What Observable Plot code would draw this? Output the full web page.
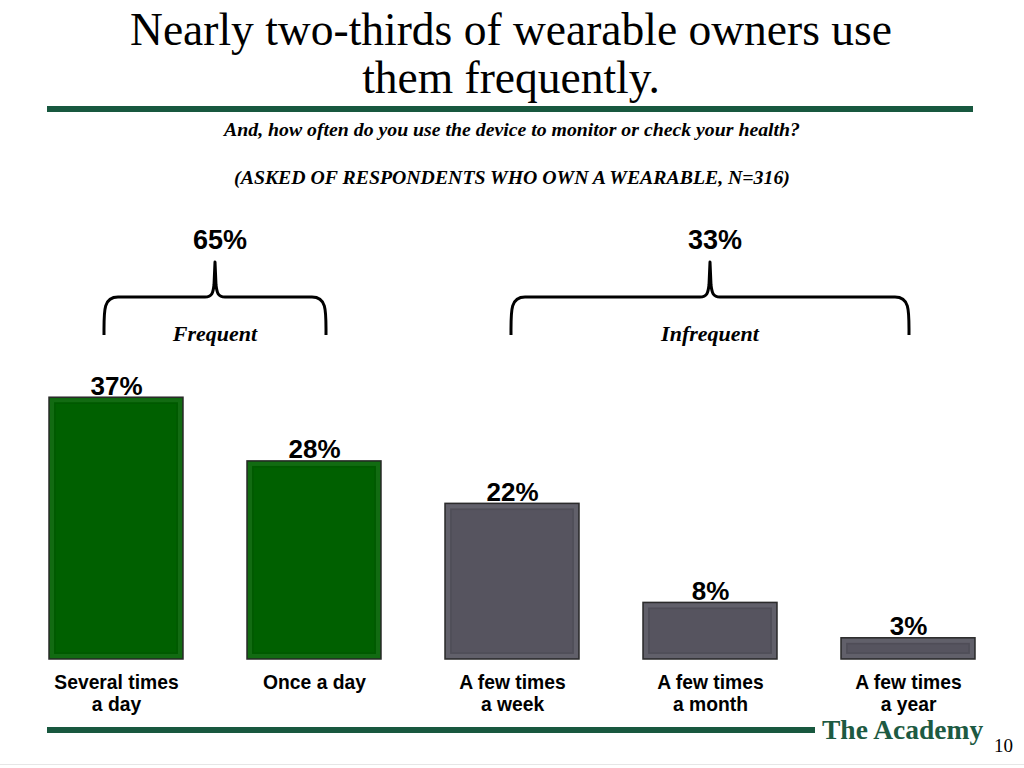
<!DOCTYPE html>
<html>
<head>
<meta charset="utf-8">
<script src="https://cdn.jsdelivr.net/npm/d3@7"></script>
<script src="https://cdn.jsdelivr.net/npm/@observablehq/plot@0.6"></script>
<style>
  html, body { margin: 0; padding: 0; background: #fff; }
  #page { position: relative; width: 1024px; height: 768px; overflow: hidden; background: #fff; }
  .abs { position: absolute; }
  #title { left: 0; top: 6px; width: 1022px; text-align: center; font-family: "Liberation Serif", "Times New Roman", serif; font-size: 45.5px; line-height: 48px; color: #000; }
  .sub { left: 0; width: 1024px; text-align: center; font-family: "Liberation Serif", "Times New Roman", serif; font-weight: bold; font-style: italic; font-size: 19.8px; color: #000; white-space: nowrap; }
  .rule { background: #18583f; }
  #academy { left: 822px; top: 715px; font-family: "Liberation Serif", "Times New Roman", serif; font-weight: bold; font-size: 27.5px; line-height: 30px; color: #1d5a42; white-space: nowrap; }
  #pagenum { left: 994px; top: 735px; font-family: "Liberation Serif", "Times New Roman", serif; font-size: 19px; color: #000; }
  #chart { left: 0; top: 200px; }
</style>
</head>
<body>
<div id="page">
  <div id="title" class="abs">Nearly two-thirds of wearable owners use<br>them frequently.</div>
  <div class="abs rule" style="left:47px; top:106px; width:926px; height:6px;"></div>
  <div class="abs sub" style="top:118px;">And, how often do you use the device to monitor or check your health?</div>
  <div class="abs sub" style="top:166px;">(ASKED OF RESPONDENTS WHO OWN A WEARABLE, N=316)</div>
  <div id="chart" class="abs"></div>
  <div class="abs rule" style="left:47px; top:727px; width:768px; height:6px;"></div>
  <div id="academy" class="abs">The Academy</div>
  <div id="pagenum" class="abs">10</div>
  <div class="abs" style="left:0; top:764px; width:1024px; height:1px; background:#e6e6e6;"></div>
</div>
<script>
const categories = ["Several times\na day", "Once a day", "A few times\na week", "A few times\na month", "A few times\na year"];
const values = [37, 28, 22, 8, 3];
const groups = ["Frequent", "Frequent", "Infrequent", "Infrequent", "Infrequent"];
const groupNames = ["Frequent", "Infrequent"];
const groupTotals = [65, 33];
const groupColors = {Frequent: "#006000", Infrequent: "#56545f"};

const data = categories.map((c, i) => ({cat: c, value: values[i], group: groups[i]}));

const W = 1024, H = 520;
const plot = Plot.plot({
  width: W,
  height: H,
  marginLeft: 0,
  marginRight: 0,
  marginTop: 176,
  marginBottom: 61,
  style: {background: "transparent", overflow: "visible"},
  x: {domain: categories, paddingInner: 0.325, paddingOuter: 0.242, axis: null},
  y: {domain: [0, 40], axis: null},
  marks: [
    Plot.barY(data, {x: "cat", y: "value", fill: d => groupColors[d.group], stroke: "#2b2b2b", strokeWidth: 1.5}),
    Plot.barY(data, {x: "cat", y: "value", fill: "none", stroke: "#ffffff", strokeOpacity: 0.07, strokeWidth: 4, insetLeft: 3, insetRight: 3, insetTop: 3, insetBottom: 3}),
    Plot.barY(data, {x: "cat", y: "value", fill: "none", stroke: "#000000", strokeOpacity: 0.08, strokeWidth: 1.5, insetLeft: 6, insetRight: 6, insetTop: 6, insetBottom: 6}),
    Plot.text(data, {x: "cat", y: "value", text: d => `${d.value}%`, dy: -3, lineAnchor: "bottom", fontSize: 26, fontWeight: "bold", fontFamily: "Liberation Sans, Arial, sans-serif", fill: "#000"}),
    Plot.text(data, {x: "cat", y: 0, text: "cat", dy: 13, lineAnchor: "top", lineHeight: 1.17, fontSize: 19.3, fontWeight: "bold", fontFamily: "Liberation Sans, Arial, sans-serif", fill: "#000"})
  ]
});

// Braces: computed from the x scale for each group of categories
const xs = plot.scale("x");
const bw = xs.bandwidth;
const cx = c => xs.apply(c) + bw / 2;
const svg = d3.select(plot);
const braceExtend = {Frequent: 12, Infrequent: 1};
groupNames.forEach((g, gi) => {
  const cats = categories.filter((c, i) => groups[i] === g);
  const first = cx(cats[0]), last = cx(cats[cats.length - 1]);
  const xl = first - braceExtend[g], xr = last + braceExtend[g];
  const xc = cats.length % 2 === 0 ? (first + last) / 2 : cx(cats[(cats.length - 1) / 2]);
  const yTop = 97, yEnd = 135, yTip = 62;
  const path = `M${xl},${yEnd} C${xl},${yTop + 14} ${xl - 1},${yTop} ${xl + 14},${yTop}
    L${xc - 10},${yTop} C${xc - 3},${yTop} ${xc - 2},${yTop - 4} ${xc - 1},${yTop - 12} L${xc},${yTip}
    L${xc + 1},${yTop - 12} C${xc + 2},${yTop - 4} ${xc + 3},${yTop} ${xc + 10},${yTop}
    L${xr - 14},${yTop} C${xr + 1},${yTop} ${xr},${yTop + 14} ${xr},${yEnd}`;
  svg.append("path").attr("d", path).attr("fill", "none").attr("stroke", "#000").attr("stroke-width", 3).attr("stroke-linejoin", "round");
  svg.append("text").attr("x", xc + 5).attr("y", 40).attr("text-anchor", "middle").attr("dominant-baseline", "central")
    .attr("font-family", "Liberation Sans, Arial, sans-serif").attr("font-weight", "bold").attr("font-size", 27).text(`${groupTotals[gi]}%`);
  svg.append("text").attr("x", xc).attr("y", 133).attr("text-anchor", "middle").attr("dominant-baseline", "central")
    .attr("font-family", "Liberation Serif, Times New Roman, serif").attr("font-weight", "bold").attr("font-style", "italic").attr("font-size", 22).text(g);
});

document.getElementById("chart").appendChild(plot);
</script>
</body>
</html>
